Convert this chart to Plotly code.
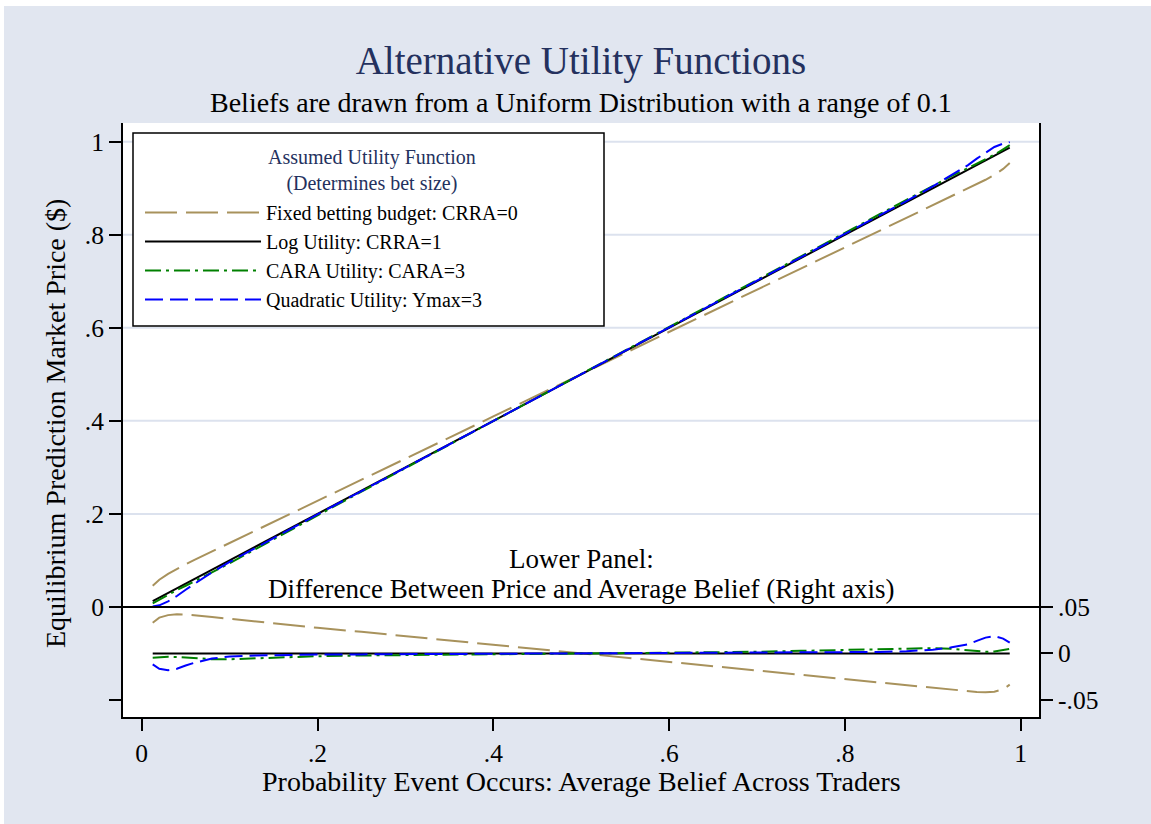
import plotly.graph_objects as go

# ---------------- data ----------------
belief = [0.0125, 0.02, 0.03, 0.04, 0.05, 0.06, 0.08, 0.1, 0.13, 0.16, 0.2, 0.25, 0.3,
          0.35, 0.4, 0.45, 0.5, 0.55, 0.6, 0.65, 0.7, 0.75, 0.8, 0.84, 0.87, 0.9, 0.92,
          0.94, 0.95, 0.96, 0.97, 0.98, 0.9875]

# Upper panel: equilibrium price
price_fixed = [0.0455, 0.0585, 0.0712, 0.0821, 0.0918, 0.1012, 0.1192, 0.1372, 0.1642,
               0.1913, 0.2276, 0.2732, 0.3186, 0.3640, 0.4094, 0.4548, 0.5002, 0.5456,
               0.5908, 0.6362, 0.6816, 0.7270, 0.7724, 0.8087, 0.8358, 0.8630, 0.8810,
               0.8992, 0.9086, 0.9182, 0.9288, 0.9415, 0.9540]
price_log = [0.0125, 0.02, 0.03, 0.04, 0.05, 0.06, 0.08, 0.1, 0.13, 0.16, 0.2, 0.25, 0.3,
             0.35, 0.4, 0.45, 0.5, 0.55, 0.6, 0.65, 0.7, 0.75, 0.8, 0.84, 0.87, 0.9, 0.92,
             0.94, 0.95, 0.96, 0.97, 0.98, 0.9875]
price_cara = [0.0078, 0.0160, 0.0264, 0.0362, 0.0455, 0.0548, 0.0738, 0.0938, 0.1248,
              0.1558, 0.1970, 0.2478, 0.2984, 0.3488, 0.3992, 0.4496, 0.5000, 0.5504,
              0.6008, 0.6512, 0.7018, 0.7528, 0.8040, 0.8446, 0.8754, 0.9057, 0.9250,
              0.9432, 0.9523, 0.9618, 0.9722, 0.9836, 0.9925]
price_quad = [0.0007, 0.0035, 0.0120, 0.0235, 0.0370, 0.0500, 0.0745, 0.0967, 0.1278,
              0.1584, 0.1988, 0.2490, 0.2992, 0.3494, 0.3996, 0.4498, 0.5000, 0.5502,
              0.6004, 0.6506, 0.7008, 0.7510, 0.8012, 0.8416, 0.8724, 0.9040, 0.9264,
              0.9497, 0.9635, 0.9770, 0.9886, 0.9960, 0.9991]

# Lower panel: price minus average belief (right axis)
diff_fixed = [0.0330, 0.0385, 0.0412, 0.0421, 0.0418, 0.0412, 0.0392, 0.0372, 0.0342,
              0.0313, 0.0276, 0.0232, 0.0186, 0.0140, 0.0094, 0.0048, 0.0002, -0.0044,
              -0.0092, -0.0138, -0.0184, -0.0230, -0.0276, -0.0313, -0.0342, -0.0370,
              -0.0390, -0.0408, -0.0414, -0.0418, -0.0412, -0.0385, -0.0335]
diff_log = [0.0] * 33
diff_cara = [-0.0047, -0.0040, -0.0036, -0.0038, -0.0045, -0.0052, -0.0062, -0.0062,
             -0.0052, -0.0042, -0.0030, -0.0022, -0.0016, -0.0012, -0.0008, -0.0004,
             0.0, 0.0004, 0.0008, 0.0012, 0.0018, 0.0028, 0.0040, 0.0046, 0.0054,
             0.0057, 0.0050, 0.0032, 0.0023, 0.0018, 0.0022, 0.0036, 0.0050]
diff_quad = [-0.0118, -0.0165, -0.0180, -0.0165, -0.0130, -0.0100, -0.0055, -0.0033,
             -0.0022, -0.0016, -0.0012, -0.0010, -0.0008, -0.0006, -0.0004, -0.0002,
             0.0, 0.0002, 0.0004, 0.0006, 0.0008, 0.0010, 0.0012, 0.0016, 0.0024,
             0.0040, 0.0064, 0.0097, 0.0135, 0.0170, 0.0186, 0.0160, 0.0116]

series_names = ["Fixed betting budget: CRRA=0", "Log Utility: CRRA=1",
                "CARA Utility: CARA=3", "Quadratic Utility: Ymax=3"]
legend_title = "Assumed Utility Function<br>(Determines bet size)"

x_ticks = [0, 0.2, 0.4, 0.6, 0.8, 1]
x_ticktext = ["0", ".2", ".4", ".6", ".8", "1"]
y_ticks = [-0.2, 0, 0.2, 0.4, 0.6, 0.8, 1]
y_ticktext = ["", "0", ".2", ".4", ".6", ".8", "1"]
y_grid = [0.2, 0.4, 0.6, 0.8, 1]
y2_ticks = [-0.05, 0, 0.05]
y2_ticktext = ["-.05", "0", ".05"]

# ---------------- styling ----------------
FONT = "Liberation Serif"
BG = "#E1E6F0"
GRID = "#DCE2EE"
NAVY = "#24315E"
styles = [
    dict(color="#A8925C", width=2, dash="32px,9px"),
    dict(color="#000000", width=2, dash="solid"),
    dict(color="#008000", width=2, dash="16px,5px,3px,5px"),
    dict(color="#0000FF", width=2, dash="18px,7px"),
]

W, H = 1151, 824
ML, MR, MT, MB = 123, 112, 123, 107
PW, PH = W - ML - MR, H - MT - MB


def px_x(p):
    return (p - ML) / PW


def px_y(p):
    return (H - MB - p) / PH


fig = go.Figure()

prices = [price_fixed, price_log, price_cara, price_quad]
diffs = [diff_fixed, diff_log, diff_cara, diff_quad]

for name, pr, st in zip(series_names, prices, styles):
    fig.add_trace(go.Scatter(x=belief, y=pr, mode="lines", name=name, line=st,
                             legendgroup=name, yaxis="y"))
for name, df, st in zip(series_names, diffs, styles):
    fig.add_trace(go.Scatter(x=belief, y=df, mode="lines", name=name, line=st,
                             legendgroup=name, showlegend=False, yaxis="y2"))

# gridlines and zero line of the upper panel
for v in y_grid:
    fig.add_hline(y=v, line=dict(color=GRID, width=2), layer="below")
fig.add_hline(y=0, line=dict(color="black", width=2), layer="above")

axis_common = dict(showline=True, linecolor="black", linewidth=2, ticks="outside",
                   ticklen=12, tickwidth=1.5, tickcolor="black", showgrid=False,
                   zeroline=False, tickfont=dict(family=FONT, size=25.5, color="black"))

fig.update_layout(
    width=W, height=H,
    margin=dict(l=ML, r=MR, t=MT, b=MB, autoexpand=False),
    paper_bgcolor=BG, plot_bgcolor="white",
    font=dict(family=FONT, color="black"),
    title=dict(text="Alternative Utility Functions", x=0.5, xref="paper",
               xanchor="center", y=1 - 60 / H, yref="container", yanchor="middle",
               font=dict(family=FONT, size=39, color=NAVY)),
    xaxis=dict(range=[-0.0213, 1.0208], tickvals=x_ticks, ticktext=x_ticktext,
               **axis_common),
    yaxis=dict(range=[-0.2366, 1.0402], tickvals=y_ticks, ticktext=y_ticktext,
               **axis_common),
    yaxis2=dict(range=[-0.0683, 0.5701], tickvals=y2_ticks, ticktext=y2_ticktext,
                overlaying="y", side="right", **axis_common),
    legend=dict(x=px_x(140), y=px_y(193), xanchor="left", yanchor="top",
                bgcolor="rgba(0,0,0,0)", borderwidth=0,
                font=dict(family=FONT, size=20, color="black"),
                itemwidth=116, tracegroupgap=0),
    showlegend=True,
)

# legend frame and legend heading
fig.add_shape(type="rect", xref="paper", yref="paper", x0=px_x(133), x1=px_x(604),
              y0=px_y(326), y1=px_y(133), fillcolor="white",
              line=dict(color="black", width=1.5), layer="above")
fig.add_annotation(text=legend_title, x=px_x(372), y=px_y(170), xref="paper",
                   yref="paper", showarrow=False, xanchor="center", yanchor="middle",
                   align="center", font=dict(family=FONT, size=20, color=NAVY))

annos = [
    dict(text="Beliefs are drawn from a Uniform Distribution with a range of 0.1",
         x=0.5, y=px_y(103), size=28),
    dict(text="Probability Event Occurs: Average Belief Across Traders",
         x=0.5, y=px_y(781), size=28),
]
for a in annos:
    fig.add_annotation(text=a["text"], x=a["x"], y=a["y"], xref="paper", yref="paper",
                       showarrow=False, xanchor="center", yanchor="middle",
                       font=dict(family=FONT, size=a["size"], color="black"))
fig.add_annotation(text="Equilibrium Prediction Market Price ($)", x=px_x(55),
                   y=px_y(424), xref="paper", yref="paper", textangle=-90,
                   showarrow=False, xanchor="center", yanchor="middle",
                   font=dict(family=FONT, size=28, color="black"))
fig.add_annotation(text="Lower Panel:", x=0.5, y=0.102, xref="x", yref="y",
                   showarrow=False, xanchor="center", yanchor="middle",
                   font=dict(family=FONT, size=27, color="black"))
fig.add_annotation(text="Difference Between Price and Average Belief (Right axis)",
                   x=0.5, y=0.038, xref="x", yref="y",
                   showarrow=False, xanchor="center", yanchor="middle",
                   font=dict(family=FONT, size=27, color="black"))

# thin white border of the exported image (top and left edges)
fig.add_shape(type="rect", xref="paper", yref="paper", x0=px_x(-5), x1=px_x(W + 5),
              y0=px_y(6), y1=px_y(-5), fillcolor="white", line=dict(width=0))
fig.add_shape(type="rect", xref="paper", yref="paper", x0=px_x(-5), x1=px_x(4),
              y0=px_y(H + 5), y1=px_y(-5), fillcolor="white", line=dict(width=0))

fig.write_html("out.html", config={"displayModeBar": False},
               post_script="document.body.style.margin='0';"
                           "document.body.style.overflow='hidden';")
